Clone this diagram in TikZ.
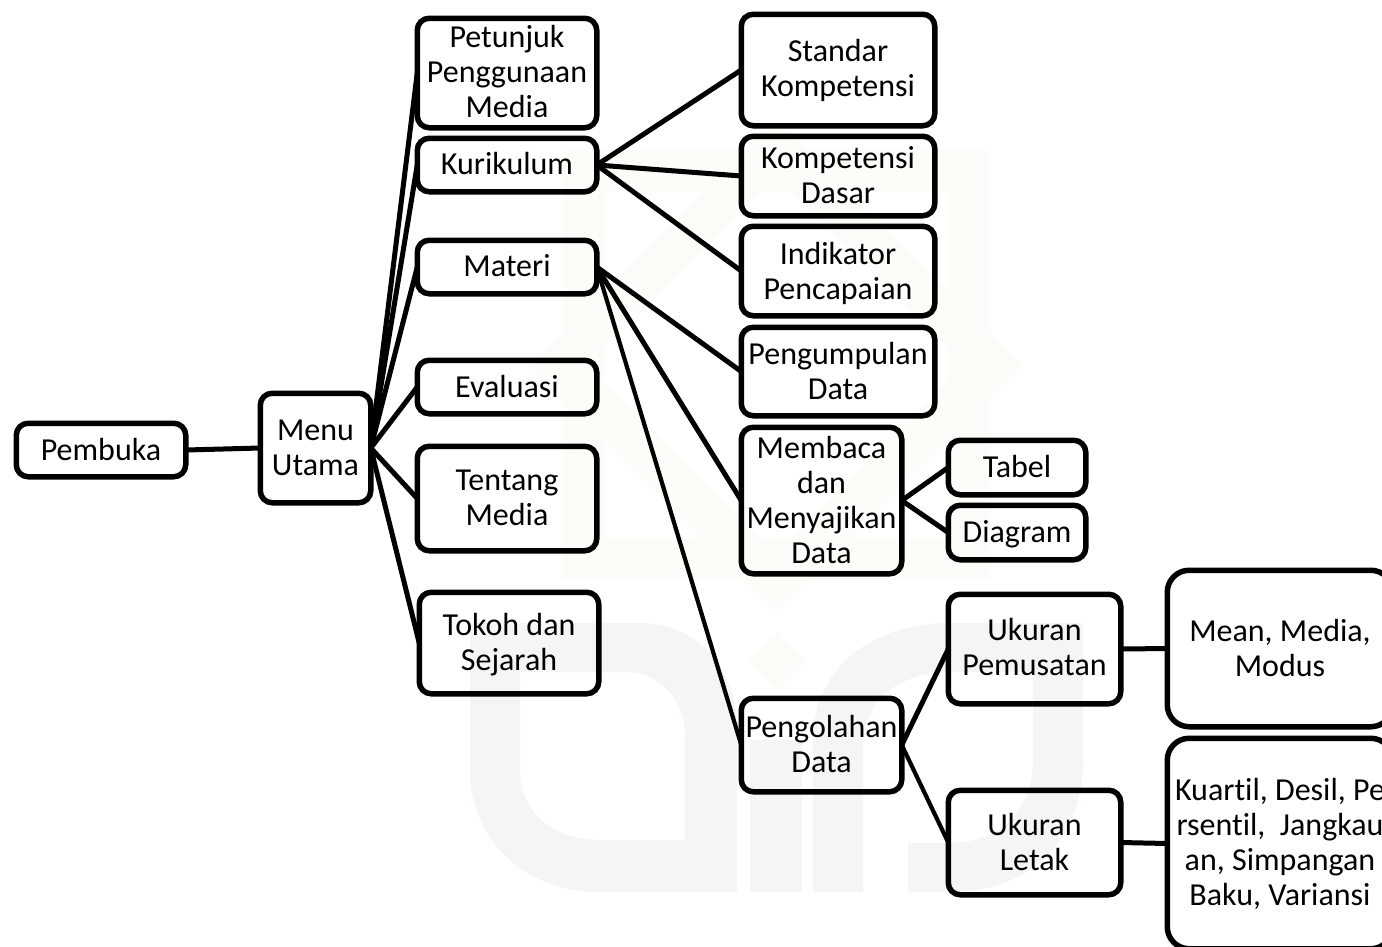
\documentclass[tikz,border=0pt]{standalone}
\usepackage{fontspec}
\setmainfont{Carlito}[RawFeature={-liga;-clig;-dlig}]
\definecolor{wmband}{HTML}{F3F6F5}
\definecolor{wmstar}{HTML}{FCFCF9}
\definecolor{wmdia}{HTML}{FDFBF7}
\tikzset{
  boxnode/.style={draw=black,line width=5.5pt,rounded corners=12pt,inner sep=0pt,outer sep=0pt},
  boxtext/.style={align=center,inner sep=0pt,font=\fontsize{32}{35}\selectfont},
  bigbox/.style={rounded corners=22pt},
  link/.style={draw=black,line width=5pt,line cap=butt},
  thinlink/.style={draw=black,line width=4.2pt,line cap=butt}
}
% \bx[options]{name}{x0}{y0}{x1}{y1}{text}{text shift, upward in pt}
\newcommand{\bx}[8][]{%
  \pgfmathsetmacro{\cxa}{(#3+#5)/2}\pgfmathsetmacro{\cya}{(#4+#6)/2}%
  \pgfmathsetmacro{\wa}{#5-#3-4.5}\pgfmathsetmacro{\ha}{#6-#4-4.5}%
  \node[boxnode,minimum width=\wa pt,minimum height=\ha pt,#1,
        label={[boxtext,rounded corners=0pt,yshift=#8pt]center:{#7}}] (#2) at (\cxa,\cya) {};}
\begin{document}
\begin{tikzpicture}[x=1pt,y=-1pt]
\useasboundingbox (0,0) rectangle (1382,946);
\clip (0,0) rectangle (1382,946);
\fill[white] (0,0) rectangle (1382,946);
% faint watermark
\draw[wmstar,line width=42pt] (584,171) rectangle (969,559);
\draw[wmstar,line width=42pt] (776,148) -- (993,365) -- (776,582) -- (559,365) -- cycle;
\fill[wmdia] (777,632) -- (806,661) -- (777,690) -- (748,661) -- cycle;
\fill[wmband,even odd rule] (470,623) -- (640,623) .. controls (695,623) and (737,665) .. (737,730) -- (737,892) -- (600,892) .. controls (525,892) and (470,840) .. (470,770) -- cycle
  (520,672) -- (625,672) .. controls (660,672) and (685,700) .. (685,735) -- (685,840) -- (600,840) .. controls (550,840) and (520,810) .. (520,770) -- cycle;
\fill[wmband] (750,740) rectangle (802,892);
\fill[wmband] (813,892) -- (813,740) .. controls (813,670) and (870,623) .. (950,623) -- (1083,623) -- (1083,760) .. controls (1083,840) and (1030,892) .. (950,892) -- (908,892) -- (908,843) -- (950,843) .. controls (1000,843) and (1033,810) .. (1033,760) -- (1033,672) -- (950,672) .. controls (900,672) and (863,700) .. (863,745) -- (863,892) -- cycle;
% nodes
\bx{pembuka}{14}{421}{188}{479}{Pembuka}{1}
\bx{menu}{258}{391}{373}{505}{Menu\\Utama}{0}
\bx{petunjuk}{415}{16}{599}{130}{Petunjuk\\Penggunaan\\Media}{1}
\bx{kurikulum}{415}{136}{599}{194}{Kurikulum}{1}
\bx{materi}{415}{238}{599}{296}{Materi}{1}
\bx{evaluasi}{415}{358}{599}{416}{Evaluasi}{1}
\bx{tentang}{415}{444}{599}{553}{Tentang\\Media}{1}
\bx{tokoh}{417}{590}{601}{696}{Tokoh dan\\Sejarah}{-2}
\bx{standar}{739}{12}{937}{128}{Standar\\Kompetensi}{0}
\bx{kd}{739}{134}{937}{218}{Kompetensi\\Dasar}{1}
\bx{indikator}{739}{224}{937}{318}{Indikator\\Pencapaian}{-2}
\bx{pengumpulan}{739}{325}{937}{418}{Pengumpulan\\Data}{1}
\bx{membaca}{739}{425}{904}{576}{Membaca\\dan\\Menyajikan\\Data}{1}
\bx{tabel}{946}{438}{1088}{497}{Tabel}{1}
\bx{diagram}{946}{503}{1088}{562}{Diagram}{-2}
\bx{pemusatan}{946}{592}{1123}{706}{Ukuran\\Pemusatan}{2}
\bx{pengolahan}{739}{696}{904}{794}{Pengolahan\\Data}{1}
\bx{letak}{946}{788}{1123}{897}{Ukuran\\Letak}{1}
\bx[bigbox]{mean}{1165}{568}{1395}{729}{Mean, Media,\\Modus}{1}
\bx[bigbox]{kuartil}{1165}{736}{1395}{951}{Kuartil, Desil, Pe\\rsentil,\ \ Jangkau\\an, Simpangan\\Baku, Variansi}{0}
% connectors
\draw[link] (pembuka.east) -- (menu.west);
\foreach \t in {petunjuk,kurikulum,materi,evaluasi,tentang,tokoh}
  \draw[link] (menu.east) -- (\t.west);
\foreach \t in {standar,kd,indikator}
  \draw[link] (kurikulum.east) -- (\t.west);
\draw[link] (materi.east) -- (pengumpulan.west);
\draw[link] (materi.east) -- (membaca.west);
\draw[thinlink] (materi.east) -- (pengolahan.west);
\draw[link] (membaca.east) -- (tabel.west);
\draw[link] (membaca.east) -- (diagram.west);
\draw[link] (pengolahan.east) -- (pemusatan.west);
\draw[thinlink] (pengolahan.east) -- (letak.west);
\draw[link] (pemusatan.east) -- (mean.west);
\draw[link] (letak.east) -- (kuartil.west);
\end{tikzpicture}
\end{document}
